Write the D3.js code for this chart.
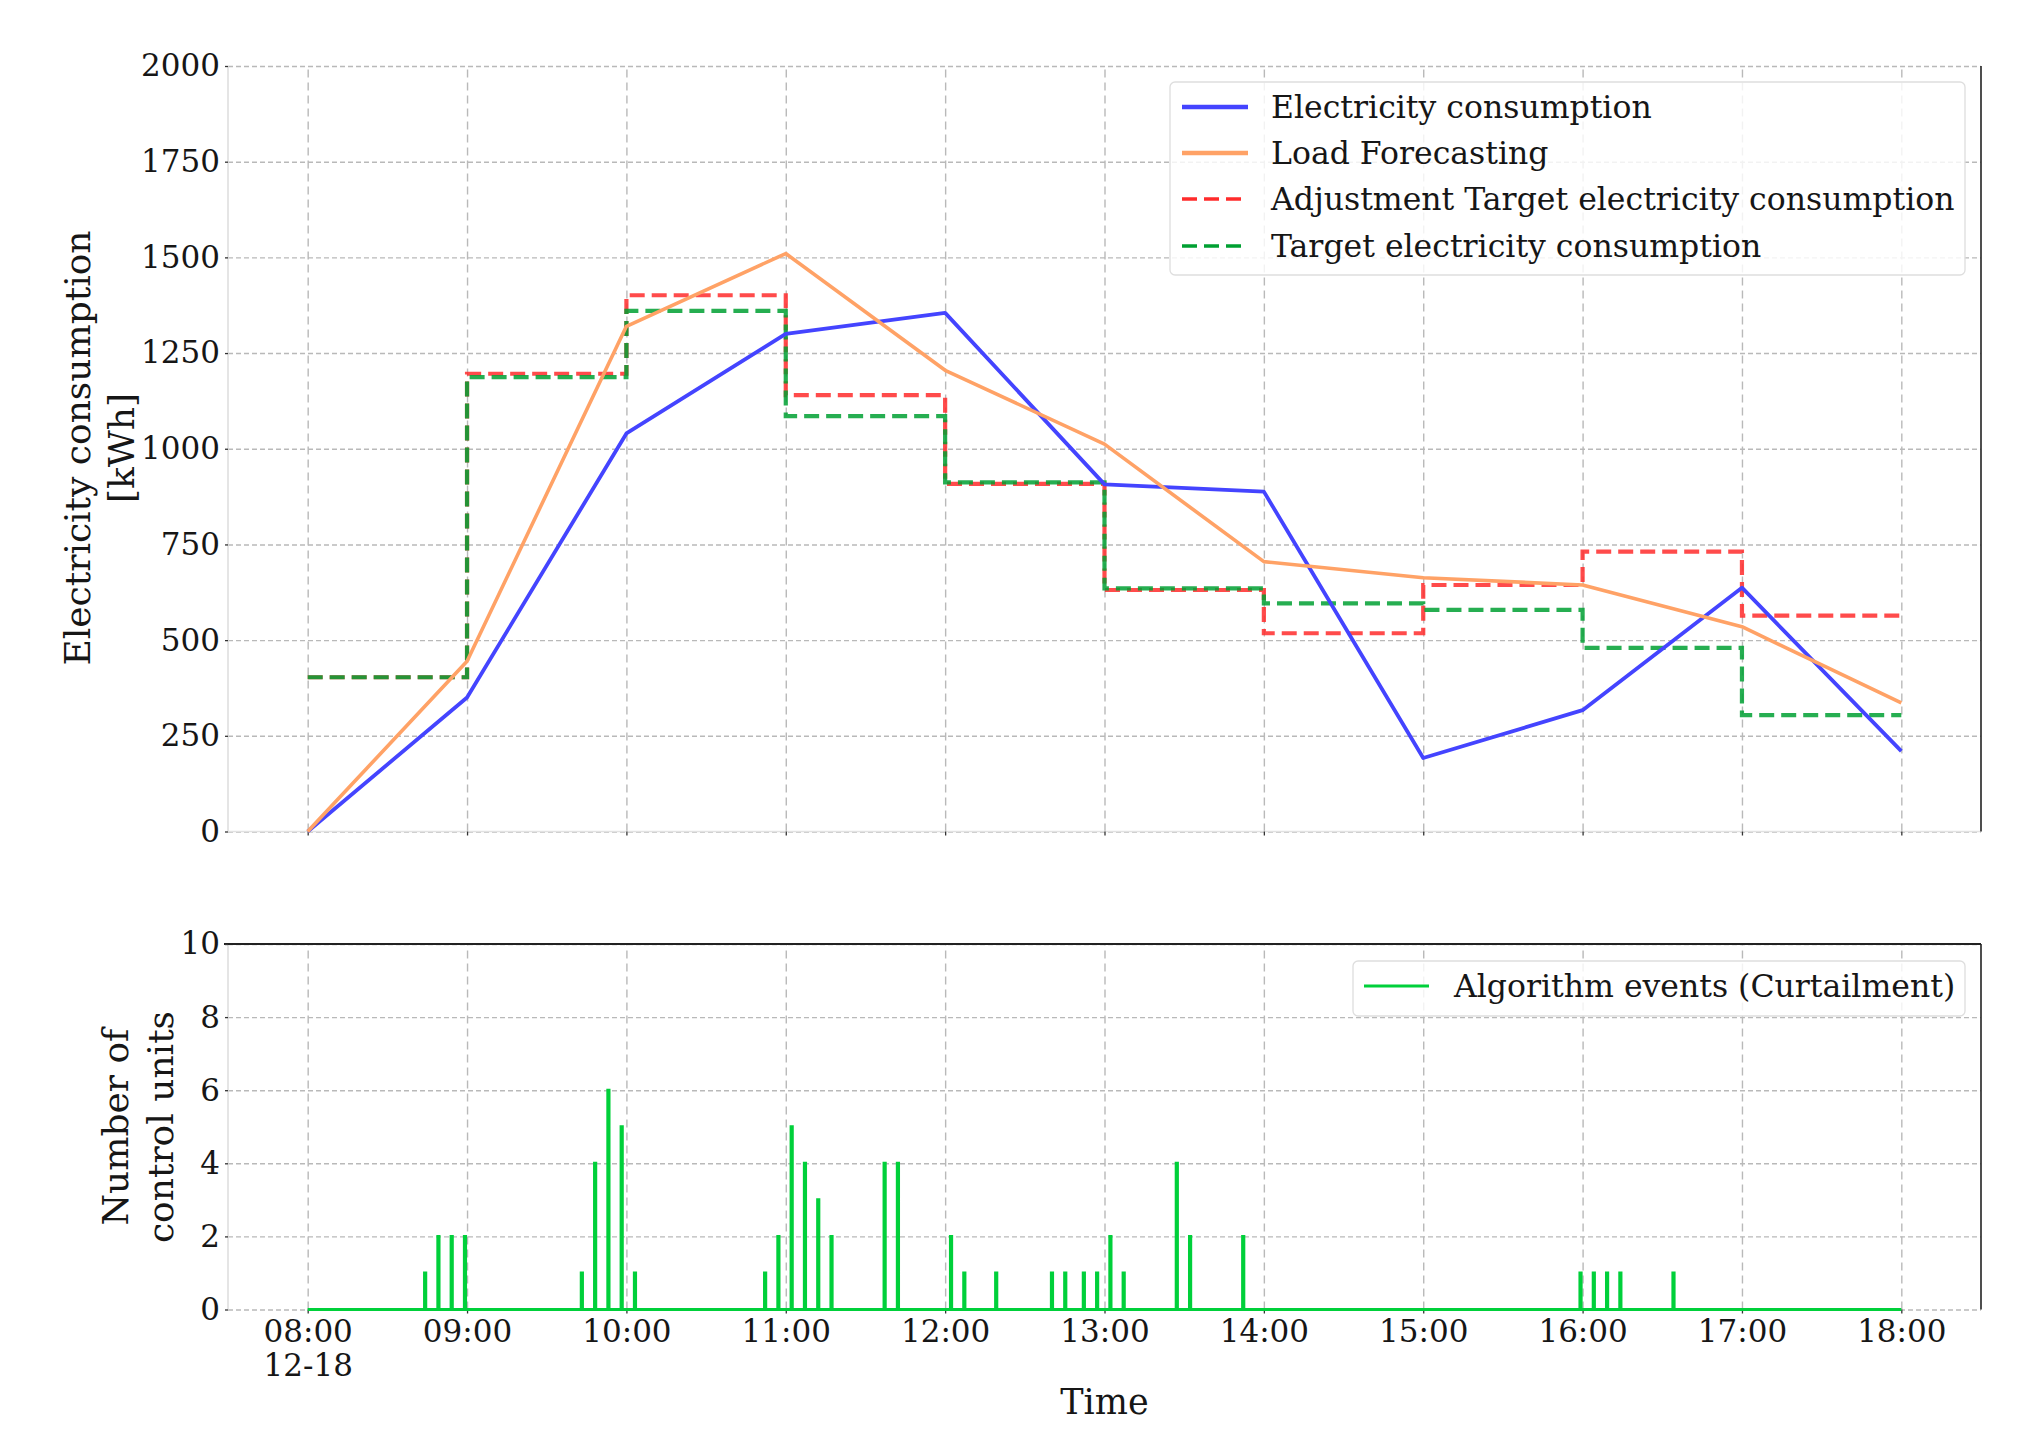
<!DOCTYPE html>
<html>
<head>
<meta charset="utf-8">
<script src="https://cdn.jsdelivr.net/npm/d3@7"></script>
<style>
  body { margin: 0; background: #fff; }
  svg { display: block; }
  text { font-family: "DejaVu Serif", serif; fill: #161616; }
</style>
</head>
<body>
<svg id="chart" width="2021" height="1440"></svg>
<script>
// ---------------- DATA ----------------
const hourLabels = ["08:00", "09:00", "10:00", "11:00", "12:00", "13:00", "14:00", "15:00", "16:00", "17:00", "18:00"];
const dateLabel = "12-18";
// hourly values (at each hour)
const consumption = [0, 350, 1040, 1300, 1355, 907, 888, 192, 317, 637, 210];
const forecast    = [0, 445, 1320, 1510, 1205, 1012, 705, 663, 644, 535, 336];
// step values for each hour interval 08-09 ... 17-18
const adjTarget   = [403, 1196, 1401, 1140, 908, 631, 518, 644, 731, 564];
const target      = [403, 1187, 1360, 1085, 912, 635, 596, 579, 480, 304];
// curtailment events
const eventTimes  = ["08:44", "08:49", "08:54", "08:59",
                     "09:43", "09:48", "09:53", "09:58", "10:03",
                     "10:52", "10:57", "11:02", "11:07", "11:12", "11:17",
                     "11:37", "11:42",
                     "12:02", "12:07", "12:19",
                     "12:40", "12:45", "12:52", "12:57", "13:02", "13:07",
                     "13:27", "13:32", "13:52",
                     "15:59", "16:04", "16:09", "16:14", "16:34"];
const eventCounts = [1, 2, 2, 2,
                     1, 4, 6, 5, 1,
                     1, 2, 5, 4, 3, 2,
                     4, 4,
                     2, 1, 1,
                     1, 1, 1, 1, 2, 1,
                     4, 2, 2,
                     1, 1, 1, 1, 1];
const yTicksTop    = [0, 250, 500, 750, 1000, 1250, 1500, 1750, 2000];
const yTicksBottom = [0, 2, 4, 6, 8, 10];
const seriesNames  = ["Electricity consumption", "Load Forecasting",
                      "Adjustment Target electricity consumption", "Target electricity consumption"];
const eventName    = "Algorithm events (Curtailment)";

// ---------------- SETUP ----------------
const parse = s => { const [h, m] = s.split(":").map(Number); return new Date(2020, 11, 18, h, m); };
const hourDates = hourLabels.map(parse);

const L = 228, R = 1981;
const top1 = 66, bot1 = 831.5;
const top2 = 944, bot2 = 1309.5;

const x  = d3.scaleTime().domain([parse("07:30"), parse("18:30")]).range([L, R]);
const y1 = d3.scaleLinear().domain([0, 2000]).range([bot1, top1]);
const y2 = d3.scaleLinear().domain([0, 10]).range([bot2, top2]);

const svg = d3.select("#chart");
const gridColor = "#b9b9b9";
const tickFont = 31, legendFont = 31.5, titleFont = 36;

function styleGrid(g, dash) {
  g.select(".domain").remove();
  g.selectAll(".tick line").attr("stroke", gridColor).attr("stroke-width", 1.4).attr("stroke-dasharray", dash);
  g.selectAll(".tick text").remove();
}

// ---------- grids: top panel ----------
svg.append("g").attr("transform", `translate(${L},0)`)
  .call(d3.axisLeft(y1).tickValues(yTicksTop).tickSize(-(R - L)).tickFormat(""))
  .call(g => styleGrid(g, "5,3"));
svg.append("g").attr("transform", `translate(0,${bot1})`)
  .call(d3.axisBottom(x).tickValues(hourDates).tickSize(-(bot1 - top1)).tickFormat(""))
  .call(g => styleGrid(g, "8,5"));

// ---------- grids: bottom panel ----------
svg.append("g").attr("transform", `translate(${L},0)`)
  .call(d3.axisLeft(y2).tickValues(yTicksBottom).tickSize(-(R - L)).tickFormat(""))
  .call(g => styleGrid(g, "5,3"));
svg.append("g").attr("transform", `translate(0,${bot2})`)
  .call(d3.axisBottom(x).tickValues(hourDates).tickSize(-(bot2 - top2)).tickFormat(""))
  .call(g => styleGrid(g, "8,5"));

// ---------- spines ----------
svg.append("line").attr("x1", L).attr("x2", L).attr("y1", top1).attr("y2", bot1).attr("stroke", "#dcdcdc").attr("stroke-width", 1.5);
svg.append("line").attr("x1", L).attr("x2", R).attr("y1", bot1).attr("y2", bot1).attr("stroke", "#e2e2e2").attr("stroke-width", 1.5);
svg.append("line").attr("x1", R).attr("x2", R).attr("y1", top1).attr("y2", bot1).attr("stroke", "#222").attr("stroke-width", 1.6);
svg.append("line").attr("x1", L).attr("x2", L).attr("y1", top2).attr("y2", bot2).attr("stroke", "#dcdcdc").attr("stroke-width", 1.5);
svg.append("line").attr("x1", L - 4).attr("x2", R).attr("y1", top2).attr("y2", top2).attr("stroke", "#222").attr("stroke-width", 1.8);
svg.append("line").attr("x1", R).attr("x2", R).attr("y1", top2).attr("y2", bot2).attr("stroke", "#222").attr("stroke-width", 1.6);

// ---------- axes (ticks + labels) ----------
function styleAxis(g) {
  g.select(".domain").remove();
  g.selectAll(".tick line").attr("stroke", "#333").attr("stroke-width", 1.3);
  g.selectAll(".tick text").attr("font-size", tickFont).attr("font-family", "DejaVu Serif").attr("fill", "#161616");
}
svg.append("g").attr("transform", `translate(${L},0)`)
  .call(d3.axisLeft(y1).tickValues(yTicksTop).tickSize(3).tickPadding(5).tickFormat(d3.format("d")))
  .call(styleAxis);
svg.append("g").attr("transform", `translate(${L},0)`)
  .call(d3.axisLeft(y2).tickValues(yTicksBottom).tickSize(3).tickPadding(5).tickFormat(d3.format("d")))
  .call(styleAxis);
svg.append("g").attr("transform", `translate(0,${bot1})`)
  .call(d3.axisBottom(x).tickValues(hourDates).tickSize(4).tickFormat(""))
  .call(styleAxis);
const xAxisB = svg.append("g").attr("transform", `translate(0,${bot2})`)
  .call(d3.axisBottom(x).tickValues(hourDates).tickSize(4).tickPadding(6)
        .tickFormat((d, i) => hourLabels[i]))
  .call(styleAxis);
xAxisB.selectAll(".tick text").filter((d, i) => i === 0)
  .append("tspan").attr("x", 0).attr("dy", "1.12em").text(dateLabel);

// axis titles
svg.append("text").attr("transform", "translate(77,448) rotate(-90)")
  .attr("text-anchor", "middle").attr("dy", "0.35em").attr("font-size", titleFont).text("Electricity consumption");
svg.append("text").attr("transform", "translate(121,448) rotate(-90)")
  .attr("text-anchor", "middle").attr("dy", "0.35em").attr("font-size", titleFont).text("[kWh]");
svg.append("text").attr("transform", "translate(115,1127) rotate(-90)")
  .attr("text-anchor", "middle").attr("dy", "0.35em").attr("font-size", titleFont).text("Number of");
svg.append("text").attr("transform", "translate(160,1127) rotate(-90)")
  .attr("text-anchor", "middle").attr("dy", "0.35em").attr("font-size", titleFont).text("control units");
svg.append("text").attr("x", x(parse("13:00"))).attr("y", 1414)
  .attr("text-anchor", "middle").attr("font-size", 35).text("Time");

// ---------- series ----------
const colBlue = "#4444ff", colOrange = "#ffa266", colRed = "#ff2b2b", colGreen = "#00a032", colEvent = "#00d03a";

const stepData = vals => {
  const pts = vals.map((v, i) => ({ t: hourDates[i], v }));
  pts.push({ t: hourDates[vals.length], v: vals[vals.length - 1] });
  return pts;
};
const stepLine = d3.line().x(d => x(d.t)).y(d => y1(d.v)).curve(d3.curveStepAfter);
const polyLine = d3.line().x(d => x(d.t)).y(d => y1(d.v));

svg.append("path").attr("d", stepLine(stepData(adjTarget)))
  .attr("fill", "none").attr("stroke", colRed).attr("stroke-width", 4.2)
  .attr("stroke-dasharray", "15,7").attr("opacity", 0.85);
svg.append("path").attr("d", stepLine(stepData(target)))
  .attr("fill", "none").attr("stroke", colGreen).attr("stroke-width", 4.2)
  .attr("stroke-dasharray", "15,7").attr("opacity", 0.85);

svg.append("path").attr("d", polyLine(consumption.map((v, i) => ({ t: hourDates[i], v }))))
  .attr("fill", "none").attr("stroke", colBlue).attr("stroke-width", 3.8).attr("stroke-linejoin", "round");
svg.append("path").attr("d", polyLine(forecast.map((v, i) => ({ t: hourDates[i], v }))))
  .attr("fill", "none").attr("stroke", colOrange).attr("stroke-width", 3.6).attr("stroke-linejoin", "round");

// events: narrow pulses on a zero baseline
const pulseW = 0.45 * 60 * 1000; // ms
const evPts = [{ t: hourDates[0], v: 0 }];
eventTimes.forEach((s, i) => {
  const t = parse(s);
  const t2 = new Date(t.getTime() + pulseW);
  evPts.push({ t, v: 0 }, { t, v: eventCounts[i] }, { t: t2, v: eventCounts[i] }, { t: t2, v: 0 });
});
evPts.push({ t: hourDates[hourDates.length - 1], v: 0 });
svg.append("path")
  .attr("d", d3.line().x(d => x(d.t)).y(d => y2(d.v))(evPts))
  .attr("fill", "none").attr("stroke", colEvent).attr("stroke-width", 3).attr("stroke-linejoin", "miter");

// ---------- legends ----------
const leg = svg.append("g");
leg.append("rect").attr("x", 1170).attr("y", 82).attr("width", 795).attr("height", 193).attr("rx", 5)
  .attr("fill", "#fff").attr("fill-opacity", 0.82).attr("stroke", "#dedede").attr("stroke-width", 1.3);
const legStyles = [
  { c: colBlue, dash: null, w: 4.5 },
  { c: colOrange, dash: null, w: 4.5 },
  { c: colRed, dash: "15,7", w: 3.5 },
  { c: colGreen, dash: "15,7", w: 3.5 }
];
const rowY = [107, 153, 199, 246];
seriesNames.forEach((name, i) => {
  const ln = leg.append("line").attr("x1", 1182).attr("x2", 1248).attr("y1", rowY[i]).attr("y2", rowY[i])
    .attr("stroke", legStyles[i].c).attr("stroke-width", legStyles[i].w);
  if (legStyles[i].dash) ln.attr("stroke-dasharray", legStyles[i].dash);
  leg.append("text").attr("x", 1271).attr("y", rowY[i]).attr("dy", "0.35em").attr("font-size", legendFont).text(name);
});

const leg2 = svg.append("g");
leg2.append("rect").attr("x", 1353).attr("y", 961).attr("width", 612).attr("height", 55).attr("rx", 5)
  .attr("fill", "#fff").attr("fill-opacity", 0.82).attr("stroke", "#dedede").attr("stroke-width", 1.3);
leg2.append("line").attr("x1", 1364).attr("x2", 1429).attr("y1", 986).attr("y2", 986)
  .attr("stroke", colEvent).attr("stroke-width", 3);
leg2.append("text").attr("x", 1454).attr("y", 986).attr("dy", "0.35em").attr("font-size", legendFont).text(eventName);
</script>
</body>
</html>
